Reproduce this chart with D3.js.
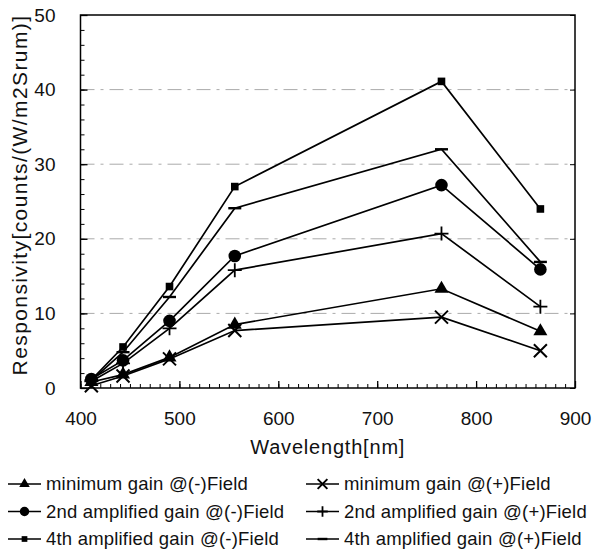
<!DOCTYPE html>
<html>
<head>
<script src="https://d3js.org/d3.v7.min.js"></script>
<style>
body { margin: 0; background: #fff; }
text { font-family: "Liberation Sans", Arial, sans-serif; fill: #111; }
</style>
</head>
<body>
<script>
// wavelengths of the measured points
var wavelengths = [411, 443, 490, 556, 765, 865];

var seriesNames = [
    'minimum gain @(-)Field',
    'minimum gain @(+)Field',
    '2nd amplified gain @(-)Field',
    '2nd amplified gain @(+)Field',
    '4th amplified gain @(-)Field',
    '4th amplified gain @(+)Field'
];
var minNeg = [0.8, 1.8, 4.1, 8.5, 13.3, 7.6];
var minPos = [0.3, 1.6, 3.9, 7.7, 9.5, 5.0];
var amp2Neg = [1.2, 3.7, 9.0, 17.7, 27.2, 15.9];
var amp2Pos = [0.9, 3.3, 8.0, 15.8, 20.7, 10.9];
var amp4Neg = [1.1, 5.5, 13.6, 27.0, 41.1, 24.0];
var amp4Pos = [1.0, 4.8, 12.2, 24.1, 32.0, 16.9];
var markers = ['triangle', 'cross', 'circle', 'plus', 'square', 'dash'];

var xTicks = [400, 500, 600, 700, 800, 900];
var yTicks = [0, 10, 20, 30, 40, 50];

var width = 593, height = 552;
var plotLeft = 80.5, plotRight = 575, plotTop = 15, plotBottom = 388;

var svg = d3.select('body').append('svg')
    .attr('width', width)
    .attr('height', height);

var x = d3.scaleLinear().domain([400, 900]).range([plotLeft, plotRight]);
var y = d3.scaleLinear().domain([0, 50]).range([plotBottom, plotTop]);

// faint dashed grid
svg.append('g')
    .selectAll('line')
    .data(yTicks.slice(1, -1))
    .enter().append('line')
    .attr('x1', plotLeft).attr('x2', plotRight)
    .attr('y1', function(d) { return y(d); })
    .attr('y2', function(d) { return y(d); })
    .style('stroke', '#aaa')
    .style('stroke-width', 1)
    .style('stroke-dasharray', '14,6,3,6');

// frame
svg.append('rect')
    .attr('x', plotLeft).attr('y', plotTop)
    .attr('width', plotRight - plotLeft).attr('height', plotBottom - plotTop)
    .style('fill', 'none')
    .style('stroke', '#000')
    .style('stroke-width', 1.5);

// x axis ticks (major + minor, inside)
var xAxis = d3.axisBottom(x).tickValues(xTicks).tickSize(-7).tickFormat(d3.format('d')).tickPadding(24);
var gx = svg.append('g').attr('transform', 'translate(0,' + plotBottom + ')').call(xAxis);
gx.select('.domain').remove();
gx.selectAll('.tick line').style('stroke', '#000').style('stroke-width', 1.3);
gx.selectAll('.tick text').style('font-size', '19px').style('fill', '#111');
svg.append('g').attr('transform', 'translate(0,' + plotBottom + ')')
    .call(d3.axisBottom(x).ticks(50).tickSize(-4).tickFormat(''))
    .call(function(g) { g.select('.domain').remove(); g.selectAll('line').style('stroke', '#000'); });

// y axis ticks
var yAxis = d3.axisLeft(y).tickValues(yTicks).tickSize(-7).tickPadding(25);
var gy = svg.append('g').attr('transform', 'translate(' + plotLeft + ',0)').call(yAxis);
gy.select('.domain').remove();
gy.selectAll('.tick line').style('stroke', '#000').style('stroke-width', 1.3);
gy.selectAll('.tick text').style('font-size', '19px').style('fill', '#111');
svg.append('g').attr('transform', 'translate(' + plotLeft + ',0)')
    .call(d3.axisLeft(y).ticks(25).tickSize(-4).tickFormat(''))
    .call(function(g) { g.select('.domain').remove(); g.selectAll('line').style('stroke', '#000'); });
svg.append('g').attr('transform', 'translate(' + plotRight + ',0)')
    .call(d3.axisRight(y).tickValues(yTicks).tickSize(-5).tickFormat(''))
    .call(function(g) { g.select('.domain').remove(); g.selectAll('line').style('stroke', '#000'); });

// axis titles
svg.append('text')
    .attr('x', (plotLeft + plotRight) / 2).attr('y', 454)
    .attr('text-anchor', 'middle')
    .style('font-size', '20px')
    .style('letter-spacing', '0.8px')
    .text('Wavelength[nm]');
svg.append('text')
    .attr('transform', 'translate(27,' + 195 + ') rotate(-90)')
    .attr('text-anchor', 'middle')
    .style('font-size', '21px')
    .style('letter-spacing', '1.4px')
    .text('Responsivity[counts/(W/m2Srum)]');

// marker drawing
function drawMarker(g, type, s) {
    if (type === 'triangle') {
        g.append('path').attr('d', d3.symbol().type(d3.symbolTriangle).size(85 * s * s)).style('fill', '#000');
    } else if (type === 'circle') {
        g.append('circle').attr('r', 6.3 * s).style('fill', '#000');
    } else if (type === 'square') {
        g.append('rect').attr('x', -3.8 * s).attr('y', -3.8 * s)
            .attr('width', 7.6 * s).attr('height', 7.6 * s).style('fill', '#000');
    } else if (type === 'cross') {
        var r = 6.5 * s;
        g.append('path').attr('d', 'M' + -r + ',' + -r + 'L' + r + ',' + r + 'M' + r + ',' + -r + 'L' + -r + ',' + r)
            .style('stroke', '#000').style('stroke-width', 2);
    } else if (type === 'plus') {
        var p = 7 * s;
        g.append('path').attr('d', 'M' + -p + ',0L' + p + ',0M0,' + -p + 'L0,' + p)
            .style('stroke', '#000').style('stroke-width', 1.8);
    } else if (type === 'dash') {
        var q = 6.5 * s;
        g.append('path').attr('d', 'M' + -q + ',0L' + q + ',0')
            .style('stroke', '#000').style('stroke-width', 2.4);
    }
}

var allSeries = [minNeg, minPos, amp2Neg, amp2Pos, amp4Neg, amp4Pos];
var line = d3.line()
    .x(function(d, i) { return x(wavelengths[i]); })
    .y(function(d) { return y(d); });

allSeries.forEach(function(values, k) {
    svg.append('path')
        .datum(values)
        .attr('d', line)
        .style('fill', 'none')
        .style('stroke', '#000')
        .style('stroke-width', 1.7);
    values.forEach(function(v, i) {
        var g = svg.append('g').attr('transform', 'translate(' + x(wavelengths[i]) + ',' + y(v) + ')');
        drawMarker(g, markers[k], 1);
    });
});

// legend: two columns, three rows
var legCols = [8, 306];
var legRows = [484, 511.5, 539];
seriesNames.forEach(function(name, k) {
    var lx = legCols[k % 2], ly = legRows[Math.floor(k / 2)];
    var g = svg.append('g').attr('transform', 'translate(' + lx + ',' + ly + ')');
    g.append('line').attr('x1', 0).attr('x2', 33).attr('y1', 0).attr('y2', 0)
        .style('stroke', '#000').style('stroke-width', 1.5);
    var mg = g.append('g').attr('transform', 'translate(16.5,0)');
    drawMarker(mg, markers[k], 0.75);
    g.append('text')
        .attr('x', 38).attr('y', 0).attr('dy', '0.35em')
        .style('font-size', '18.5px')
        .style('letter-spacing', '0.2px')
        .text(name);
});
</script>
</body>
</html>
